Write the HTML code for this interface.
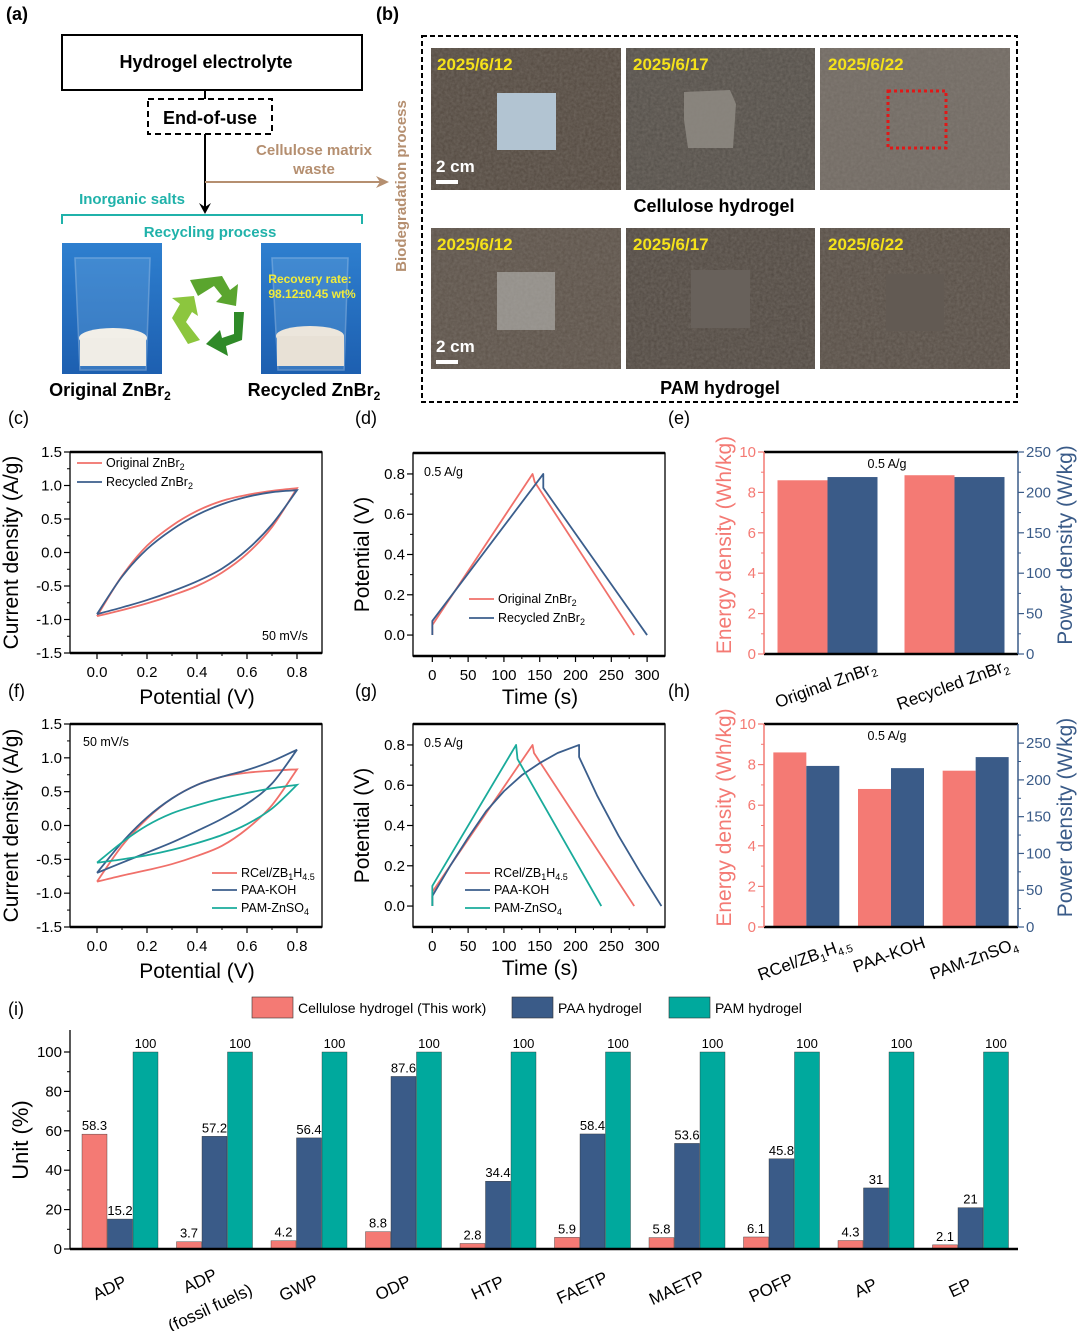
<!DOCTYPE html>
<html><head><meta charset="utf-8"><style>
html,body{margin:0;padding:0;background:#fff;}
svg{display:block;font-family:"Liberation Sans",Arial,sans-serif;}
</style></head><body>
<svg id="fig" width="1080" height="1331" viewBox="0 0 1080 1331" xmlns="http://www.w3.org/2000/svg">
<defs>
<filter id="soil" x="0" y="0" width="100%" height="100%"><feTurbulence type="fractalNoise" baseFrequency="0.35" numOctaves="3" seed="4"/><feColorMatrix values="0 0 0 0 0.3  0 0 0 0 0.27  0 0 0 0 0.24  0 0 0 0.9 -0.1"/><feComposite in2="SourceGraphic" operator="in"/></filter>
<linearGradient id="bk" x1="0" y1="0" x2="0" y2="1"><stop offset="0" stop-color="#2e7fcf"/><stop offset="1" stop-color="#1d5fb0"/></linearGradient>
</defs>
<g font-size="18" font-weight="bold" fill="#000">
<text x="6" y="20">(a)</text><text x="376" y="20">(b)</text>
<text x="8" y="424" font-weight="normal">(c)</text><text x="355" y="424" font-weight="normal">(d)</text><text x="668" y="424" font-weight="normal">(e)</text>
<text x="8" y="697" font-weight="normal">(f)</text><text x="355" y="697" font-weight="normal">(g)</text><text x="668" y="697" font-weight="normal">(h)</text>
<text x="8" y="1015" font-weight="normal">(i)</text>
</g>
<g>
<rect x="62" y="35" width="300" height="55" fill="#fff" stroke="#000" stroke-width="2"/>
<text x="206" y="68" font-size="18" font-weight="bold" text-anchor="middle">Hydrogel electrolyte</text>
<line x1="205" y1="90" x2="205" y2="99" stroke="#000" stroke-width="2"/>
<rect x="148" y="99" width="124" height="35" fill="#fff" stroke="#000" stroke-width="2" stroke-dasharray="6,4"/>
<text x="210" y="124" font-size="18" font-weight="bold" text-anchor="middle">End-of-use</text>
<line x1="205" y1="134" x2="205" y2="208" stroke="#000" stroke-width="2"/>
<polygon points="199,203 205,214 211,203 205,207" fill="#000"/>
<line x1="205" y1="182" x2="382" y2="182" stroke="#b58f70" stroke-width="2"/>
<polygon points="376,176 389,182 376,188 380,182" fill="#b58f70"/>
<text x="314" y="155" font-size="15" font-weight="bold" fill="#b58f70" text-anchor="middle">Cellulose matrix</text>
<text x="314" y="174" font-size="15" font-weight="bold" fill="#b58f70" text-anchor="middle">waste</text>
<text x="132" y="204" font-size="15" font-weight="bold" fill="#20b2aa" text-anchor="middle">Inorganic salts</text>
<path d="M62,224 V215 H362 V224" fill="none" stroke="#20b2aa" stroke-width="2"/>
<text x="210" y="237" font-size="15" font-weight="bold" fill="#20b2aa" text-anchor="middle">Recycling process</text>
<rect x="62" y="243" width="100" height="131" fill="url(#bk)"/>
<path d="M75,258 H150 L146,370 H80 Z" fill="#6aa6dd" opacity="0.35" stroke="#cfe3f5" stroke-width="1.5"/>
<ellipse cx="113" cy="338" rx="34" ry="10" fill="#f2efe8"/><rect x="80" y="338" width="66" height="28" fill="#f0ede6"/>
<rect x="261" y="243" width="100" height="131" fill="url(#bk)"/>
<path d="M272,258 H348 L344,370 H278 Z" fill="#6aa6dd" opacity="0.35" stroke="#cfe3f5" stroke-width="1.5"/>
<ellipse cx="310" cy="336" rx="34" ry="10" fill="#ece6dc"/><rect x="277" y="336" width="67" height="30" fill="#e8e1d6"/>
<text x="310" y="283" font-size="12" font-weight="bold" fill="#f2ec3a" text-anchor="middle">Recovery rate:</text>
<text x="312" y="298" font-size="12" font-weight="bold" fill="#f2ec3a" text-anchor="middle">98.12±0.45 wt%</text>
<g>
<path d="M190,280 L222,276 L230,290 L238,284 L236,306 L216,302 L222,296 L214,286 L198,296 Z" fill="#5aa52e"/>
<path d="M244,312 L242,340 L226,346 L228,356 L206,344 L220,330 L222,338 L234,334 L234,312 Z" fill="#2f8a28"/>
<path d="M188,344 L172,318 L180,304 L172,298 L194,296 L198,316 L192,312 L186,322 L200,340 Z" fill="#8cc63e"/>
</g>
<text x="110" y="396" font-size="18" font-weight="bold" text-anchor="middle">Original ZnBr<tspan font-size="12" dy="4">2</tspan></text>
<text x="314" y="396" font-size="18" font-weight="bold" text-anchor="middle">Recycled ZnBr<tspan font-size="12" dy="4">2</tspan></text>
<text transform="translate(406,186) rotate(-90)" font-size="15" font-weight="bold" fill="#b58f70" text-anchor="middle">Biodegradation process</text>
</g>
<g>
<rect x="422" y="36" width="595" height="366" fill="none" stroke="#000" stroke-width="2" stroke-dasharray="5,3"/>
<rect x="431" y="48" width="190" height="142" fill="#564c43"/><rect x="431" y="48" width="190" height="142" fill="#fff" filter="url(#soil)" opacity="0.5"/>
<rect x="626" y="48" width="189" height="142" fill="#57524c"/><rect x="626" y="48" width="189" height="142" fill="#fff" filter="url(#soil)" opacity="0.5"/>
<rect x="820" y="48" width="190" height="142" fill="#736c65"/><rect x="820" y="48" width="190" height="142" fill="#fff" filter="url(#soil)" opacity="0.5"/>
<rect x="431" y="228" width="190" height="141" fill="#5f554c"/><rect x="431" y="228" width="190" height="141" fill="#fff" filter="url(#soil)" opacity="0.5"/>
<rect x="626" y="228" width="189" height="141" fill="#544c45"/><rect x="626" y="228" width="189" height="141" fill="#fff" filter="url(#soil)" opacity="0.5"/>
<rect x="820" y="228" width="190" height="141" fill="#5a5149"/><rect x="820" y="228" width="190" height="141" fill="#fff" filter="url(#soil)" opacity="0.5"/>
<rect x="497" y="93" width="59" height="57" fill="#b2c4d2"/>
<path d="M684,92 L730,90 L736,104 L733,148 L688,148 L684,120 Z" fill="#8f8b84" opacity="0.85"/>
<rect x="888" y="91" width="58" height="57" fill="none" stroke="#e01818" stroke-width="3" stroke-dasharray="3,3"/>
<rect x="497" y="272" width="58" height="58" fill="#b8b8b4" opacity="0.6"/>
<rect x="691" y="270" width="59" height="58" fill="#68615b"/>
<rect x="886" y="274" width="58" height="57" fill="#625a53"/>
<g font-size="17" font-weight="bold" fill="#f5e21a">
<text x="437" y="70">2025/6/12</text><text x="633" y="70">2025/6/17</text><text x="828" y="70">2025/6/22</text>
<text x="437" y="250">2025/6/12</text><text x="633" y="250">2025/6/17</text><text x="828" y="250">2025/6/22</text>
</g>
<text x="436" y="172" font-size="17" font-weight="bold" fill="#fff">2 cm</text><rect x="436" y="180" width="22" height="4" fill="#fff"/>
<text x="436" y="352" font-size="17" font-weight="bold" fill="#fff">2 cm</text><rect x="436" y="360" width="22" height="4" fill="#fff"/>
<text x="714" y="212" font-size="18" font-weight="bold" text-anchor="middle">Cellulose hydrogel</text>
<text x="720" y="394" font-size="18" font-weight="bold" text-anchor="middle">PAM hydrogel</text>
</g>
</svg>
<script>
const cvX = [0, 0.1, 0.2, 0.3, 0.4, 0.5, 0.6, 0.7, 0.8];
const cOrigUp = [-0.95, -0.35, 0.1, 0.4, 0.62, 0.77, 0.86, 0.92, 0.96];
const cOrigDn = [-0.95, -0.86, -0.76, -0.64, -0.5, -0.3, -0.02, 0.38, 0.96];
const cRecUp = [-0.92, -0.36, 0.05, 0.34, 0.56, 0.72, 0.83, 0.9, 0.93];
const cRecDn = [-0.92, -0.82, -0.71, -0.58, -0.43, -0.24, 0.04, 0.42, 0.93];
const fRcUp = [-0.83, -0.3, 0.1, 0.4, 0.6, 0.72, 0.78, 0.81, 0.83];
const fRcDn = [-0.83, -0.74, -0.66, -0.57, -0.45, -0.3, -0.05, 0.3, 0.83];
const fPaaUp = [-0.7, -0.25, 0.12, 0.4, 0.6, 0.72, 0.82, 0.95, 1.12];
const fPaaDn = [-0.7, -0.55, -0.4, -0.25, -0.08, 0.1, 0.32, 0.62, 1.12];
const fPamUp = [-0.55, -0.25, 0.0, 0.18, 0.3, 0.4, 0.48, 0.55, 0.6];
const fPamDn = [-0.55, -0.5, -0.44, -0.36, -0.26, -0.14, 0.02, 0.25, 0.6];
const dOrigT = [0, 0, 140, 143, 282];
const dOrigV = [0, 0.05, 0.8, 0.76, 0];
const dRecT = [0, 0, 155, 155, 300];
const dRecV = [0, 0.07, 0.8, 0.73, 0];
const gRcT = [0, 0, 140, 142, 282];
const gRcV = [0, 0.07, 0.8, 0.76, 0];
const gPaaT = [0, 0, 25, 50, 75, 100, 125, 150, 175, 205, 205, 230, 260, 290, 320];
const gPaaV = [0, 0.05, 0.2, 0.34, 0.47, 0.57, 0.65, 0.71, 0.76, 0.8, 0.74, 0.55, 0.35, 0.17, 0];
const gPamT = [0, 0, 117, 119, 236];
const gPamV = [0, 0.1, 0.8, 0.73, 0];
const eCats = ['Original ZnBr', 'Recycled ZnBr'];
const eEnergy = [8.6, 8.85];
const ePower = [219, 219];
const hCats = ['RCel/ZB', 'PAA-KOH', 'PAM-ZnSO'];
const hEnergy = [8.6, 6.8, 7.7];
const hPower = [219, 216, 231];
const iCats = ['ADP', 'ADP', 'GWP', 'ODP', 'HTP', 'FAETP', 'MAETP', 'POFP', 'AP', 'EP'];
const iCell = [58.3, 3.7, 4.2, 8.8, 2.8, 5.9, 5.8, 6.1, 4.3, 2.1];
const iPAA = [15.2, 57.2, 56.4, 87.6, 34.4, 58.4, 53.6, 45.8, 31, 21];
const iPAM = [100, 100, 100, 100, 100, 100, 100, 100, 100, 100];
const cvTicksX = [0, 0.2, 0.4, 0.6, 0.8];
const cvTicksY = [-1.5, -1.0, -0.5, 0.0, 0.5, 1.0, 1.5];
const gcdTicksX = [0, 50, 100, 150, 200, 250, 300];
const gcdTicksY = [0, 0.2, 0.4, 0.6, 0.8];
const enTicks = [0, 2, 4, 6, 8, 10];
const pwTicks = [0, 50, 100, 150, 200, 250];
const iTicks = [0, 20, 40, 60, 80, 100];

const RED = '#f0706a', BLUE = '#3b5e8c', TEAL = '#1aab9b';
const BRED = '#f47a74', BNAVY = '#3a5b88', BTEAL = '#00a99d';
const NS = 'http://www.w3.org/2000/svg';
const svg = document.getElementById('fig');
function mk(tag, attrs, parent) { const e = document.createElementNS(NS, tag); for (const k in attrs) e.setAttribute(k, attrs[k]); (parent || svg).appendChild(e); return e; }
function txt(x, y, s, attrs, parent) { const e = mk('text', Object.assign({ x: x, y: y }, attrs || {}), parent); e.textContent = s; return e; }
function sc(a, b, c, d) { return v => c + (v - a) * (d - c) / (b - a); }
function smooth(pts) {
  let d = 'M' + pts[0][0] + ',' + pts[0][1];
  for (let i = 0; i < pts.length - 1; i++) {
    const p0 = pts[Math.max(0, i - 1)], p1 = pts[i], p2 = pts[i + 1], p3 = pts[Math.min(pts.length - 1, i + 2)];
    d += ' C' + (p1[0] + (p2[0] - p0[0]) / 6) + ',' + (p1[1] + (p2[1] - p0[1]) / 6) + ' ' + (p2[0] - (p3[0] - p1[0]) / 6) + ',' + (p2[1] - (p3[1] - p1[1]) / 6) + ' ' + p2[0] + ',' + p2[1];
  }
  return d;
}
function frame(g, L, R, T, B) {
  const r = mk('rect', { x: L, y: T, width: R - L, height: B - T, fill: 'none', stroke: '#000', 'stroke-width': 1.3 }, g);
  
  
  mk('line', { x1: L, x2: R, y1: T, y2: T, stroke: '#000', 'stroke-width': 2.5 }, g);
  mk('line', { x1: L, x2: R, y1: B, y2: B, stroke: '#000', 'stroke-width': 2.5 }, g);
}
function yTicks(g, ticks, ys, L, fmt, color, right) {
  ticks.forEach((t, i) => {
    const y = ys(t);
    const d = right ? 6 : -6;
    mk('line', { x1: L, x2: L + d, y1: y, y2: y, stroke: color || '#000', 'stroke-width': 1.2 }, g);
    if (i < ticks.length - 1) { const ym = (y + ys(ticks[i + 1])) / 2; mk('line', { x1: L, x2: L + d / 2, y1: ym, y2: ym, stroke: color || '#000', 'stroke-width': 1 }, g); }
    const lb = txt(right ? L + 8 : L - 8, y + 5, fmt(t), { 'font-size': 15, 'text-anchor': right ? 'start' : 'end', fill: color || '#000' }, g);
    
    
  });
}
function xTicks(g, ticks, xs, B, fmt) {
  ticks.forEach((t, i) => {
    const x = xs(t);
    mk('line', { x1: x, x2: x, y1: B, y2: B + 6, stroke: '#000', 'stroke-width': 1.2 }, g);
    if (i < ticks.length - 1) { const xm = (x + xs(ticks[i + 1])) / 2; mk('line', { x1: xm, x2: xm, y1: B, y2: B + 3, stroke: '#000', 'stroke-width': 1 }, g); }
    const lb = txt(x, B + 24, fmt(t), { 'font-size': 15, 'text-anchor': 'middle' }, g);
    
    
  });
}
function vtitle(g, x, y, s, color, size) {
  const t = txt(0, 0, s, { transform: 'translate(' + x + ',' + y + ') rotate(-90)', 'font-size': size || 21, 'text-anchor': 'middle', fill: color || '#000' }, g);
  
  
  return t;
}
function legendLine(g, x, y, color, label, sub, sub2) {
  mk('line', { x1: x, x2: x + 25, y1: y, y2: y, stroke: color, 'stroke-width': 1.8 }, g);
  const t = txt(x + 29, y + 4, label, { 'font-size': 12.5 }, g);
  
  
  if (sub) { const s = mk('tspan', { 'font-size': 9, dy: 3 }, t); s.textContent = sub; }
  if (sub2) { const s = mk('tspan', { 'font-size': 12.5, dy: -3 }, t); s.textContent = sub2[0]; const s2 = mk('tspan', { 'font-size': 9, dy: 3 }, t); s2.textContent = sub2[1]; }
}
function cvPanel(name, T, B, series, legend) {
  const g = mk('g', {});
  
  
  const L = 70, R = 322;
  const xs = sc(-0.108, 0.9, L, R), ys = sc(-1.5, 1.5, B, T);
  series.forEach(s => {
    const up = cvX.map((v, i) => [xs(v), ys(s.up[i])]);
    const dn = cvX.map((v, i) => [xs(v), ys(s.dn[i])]);
    const p = mk('path', { d: smooth(up) + ' ' + smooth(dn.reverse()).replace('M', 'L'), fill: 'none', stroke: s.color, 'stroke-width': 1.8 }, g);
    
    
  });
  frame(g, L, R, T, B);
  yTicks(g, cvTicksY, ys, L, v => v.toFixed(1));
  xTicks(g, cvTicksX, xs, B, v => v.toFixed(1));
  vtitle(g, 18, (T + B) / 2, 'Current density (A/g)');
  const xt = txt(197, B + 51, 'Potential (V)', { 'font-size': 21, 'text-anchor': 'middle' }, g);
  
  
  legend(g);
}
cvPanel('cv-chart-c', 452, 653, [{ up: cOrigUp, dn: cOrigDn, color: RED }, { up: cRecUp, dn: cRecDn, color: BLUE }], g => {
  legendLine(g, 77, 463, RED, 'Original ZnBr', '2');
  legendLine(g, 77, 482, BLUE, 'Recycled ZnBr', '2');
  txt(262, 640, '50 mV/s', { 'font-size': 12.5 }, g);
});
cvPanel('cv-chart-f', 724, 927, [{ up: fRcUp, dn: fRcDn, color: RED }, { up: fPaaUp, dn: fPaaDn, color: BLUE }, { up: fPamUp, dn: fPamDn, color: TEAL }], g => {
  legendLine(g, 212, 873, RED, 'RCel/ZB', '1', ['H', '4.5']);
  legendLine(g, 212, 890, BLUE, 'PAA-KOH');
  legendLine(g, 212, 908, TEAL, 'PAM-ZnSO', '4');
  txt(83, 746, '50 mV/s', { 'font-size': 12.5 }, g);
});
function gcdPanel(name, T, B, series, legend) {
  const g = mk('g', {});
  
  
  const L = 413, R = 665;
  const xs = sc(-27, 325, L, R), ys = sc(-0.104, 0.904, B, T);
  series.forEach(s => {
    const pts = s.t.map((v, i) => xs(v) + ',' + ys(s.v[i])).join(' ');
    const p = mk('polyline', { points: pts, fill: 'none', stroke: s.color, 'stroke-width': 1.8, 'stroke-linejoin': 'round' }, g);
    
    
  });
  frame(g, L, R, T, B);
  yTicks(g, gcdTicksY, ys, L, v => v.toFixed(1));
  xTicks(g, gcdTicksX, xs, B, v => String(v));
  vtitle(g, 369, (T + B) / 2, 'Potential (V)');
  const xt = txt(540, B + 48, 'Time (s)', { 'font-size': 21, 'text-anchor': 'middle' }, g);
  
  
  txt(424, T + 23, '0.5 A/g', { 'font-size': 12.5 }, g);
  legend(g);
}
gcdPanel('gcd-chart-d', 453, 656, [{ t: dOrigT, v: dOrigV, color: RED }, { t: dRecT, v: dRecV, color: BLUE }], g => {
  legendLine(g, 469, 599, RED, 'Original ZnBr', '2');
  legendLine(g, 469, 618, BLUE, 'Recycled ZnBr', '2');
});
gcdPanel('gcd-chart-g', 724, 927, [{ t: gRcT, v: gRcV, color: RED }, { t: gPaaT, v: gPaaV, color: BLUE }, { t: gPamT, v: gPamV, color: TEAL }], g => {
  legendLine(g, 465, 873, RED, 'RCel/ZB', '1', ['H', '4.5']);
  legendLine(g, 465, 890, BLUE, 'PAA-KOH');
  legendLine(g, 465, 908, TEAL, 'PAM-ZnSO', '4');
});
function epPanel(name, T, B, cats, en, pw, pmax, bw, labels) {
  const g = mk('g', {});
  
  
  const L = 764, R = 1018;
  const ys = sc(0, 10, B, T), yp = sc(0, pmax, B, T);
  const gw = (R - L) / cats.length;
  cats.forEach((c, i) => {
    const cx = L + gw * (i + 0.5);
    const r1 = mk('rect', { x: cx - bw, y: ys(en[i]), width: bw, height: B - ys(en[i]), fill: BRED }, g);
    
    
    const r2 = mk('rect', { x: cx, y: yp(pw[i]), width: bw, height: B - yp(pw[i]), fill: BNAVY }, g);
    
    
  });
  mk('line', { x1: L, x2: R, y1: T, y2: T, stroke: '#000', 'stroke-width': 2.5 }, g);
  mk('line', { x1: L, x2: R, y1: B, y2: B, stroke: '#000', 'stroke-width': 2.5 }, g);
  mk('line', { x1: L, x2: L, y1: T, y2: B, stroke: BRED, 'stroke-width': 1.5 }, g);
  mk('line', { x1: R, x2: R, y1: T, y2: B, stroke: BNAVY, 'stroke-width': 1.5 }, g);
  yTicks(g, enTicks, ys, L, v => String(v), BRED, false);
  yTicks(g, pwTicks, yp, R, v => String(v), BNAVY, true);
  vtitle(g, 731, (T + B) / 2 - 8, 'Energy density (Wh/kg)', BRED);
  vtitle(g, 1072, (T + B) / 2 - 8, 'Power density (W/kg)', BNAVY);
  txt(887, T + 16, '0.5 A/g', { 'font-size': 12.5, 'text-anchor': 'middle' }, g);
  labels(g, L, gw);
}
function rotLabel(g, x, y, parts) {
  const t = mk('text', { transform: 'translate(' + x + ',' + y + ') rotate(-20)', 'font-size': 17, 'text-anchor': 'middle' }, g);
  
  
  parts.forEach(p => {
    const a = p[1] ? (p[2] ? { dy: p[1] } : { 'font-size': 11, dy: p[1] }) : {};
    const s = mk('tspan', a, t);
    s.textContent = p[0];
  });
}
epPanel('energy-power-chart-e', 452, 654, eCats, eEnergy, ePower, 250, 50, (g, L, gw) => {
  rotLabel(g, L + gw * 0.5, 690, [[eCats[0]], ['2', 4]]);
  rotLabel(g, L + gw * 1.5, 690, [[eCats[1]], ['2', 4]]);
});
epPanel('energy-power-chart-h', 724, 927, hCats, hEnergy, hPower, 276, 33, (g, L, gw) => {
  rotLabel(g, L + gw * 0.5, 964, [[hCats[0]], ['1', 4], ['H', -4, true], ['4.5', 4]]);
  rotLabel(g, L + gw * 1.5, 960, [[hCats[1]]]);
  rotLabel(g, L + gw * 2.5, 964, [[hCats[2]], ['4', 4]]);
});
(function () {
  const g = mk('g', {});
  
  
  const L = 70, R = 1018, B = 1249;
  const ys = sc(0, 100, B, 1052);
  const gx = i => 120 + i * 94.5;
  const bw = 25;
  const series = [[iCell, BRED, -38, 'cellulose-bar'], [iPAA, BNAVY, -12.5, 'paa-bar'], [iPAM, BTEAL, 13, 'pam-bar']];
  iCats.forEach((c, i) => {
    series.forEach(s => {
      const v = s[0][i];
      const r = mk('rect', { x: gx(i) + s[2], y: ys(v), width: bw, height: B - ys(v), fill: s[1], stroke: '#333', 'stroke-width': 0.4 }, g);
      
      
      const t = txt(gx(i) + s[2] + bw / 2, ys(v) - 4, String(v), { 'font-size': 13, 'text-anchor': 'middle' }, g);
      
      
    });
    const lab = mk('text', { transform: 'translate(' + (gx(i) - 8) + ',' + 1293 + ') rotate(-25)', 'font-size': 17, 'text-anchor': 'middle' }, g);
    
    
    lab.textContent = c;
    if (i === 1) {
      const l2 = mk('text', { transform: 'translate(' + (gx(i) - 2) + ',' + 1313 + ') rotate(-25)', 'font-size': 17, 'text-anchor': 'middle' }, g);
      
      
      l2.textContent = '(fossil fuels)';
      lab.setAttribute('transform', 'translate(' + (gx(i) - 12) + ',' + 1286 + ') rotate(-25)');
    }
  });
  mk('line', { x1: L, x2: L, y1: 1030, y2: B, stroke: '#000', 'stroke-width': 1.3 }, g);
  mk('line', { x1: L, x2: R, y1: B, y2: B, stroke: '#000', 'stroke-width': 2.5 }, g);
  yTicks(g, iTicks, ys, L, v => String(v));
  vtitle(g, 28, 1140, 'Unit (%)', '#000', 22);
  const leg = [[252, BRED, 'Cellulose hydrogel (This work)'], [512, BNAVY, 'PAA hydrogel'], [669, BTEAL, 'PAM hydrogel']];
  leg.forEach(l => {
    const r = mk('rect', { x: l[0], y: 997, width: 41, height: 21, fill: l[1], stroke: '#333', 'stroke-width': 0.6 }, g);
    
    
    const t = txt(l[0] + 46, 1013, l[2], { 'font-size': 14 }, g);
    
    
  });
})();
</script>
</body></html>
